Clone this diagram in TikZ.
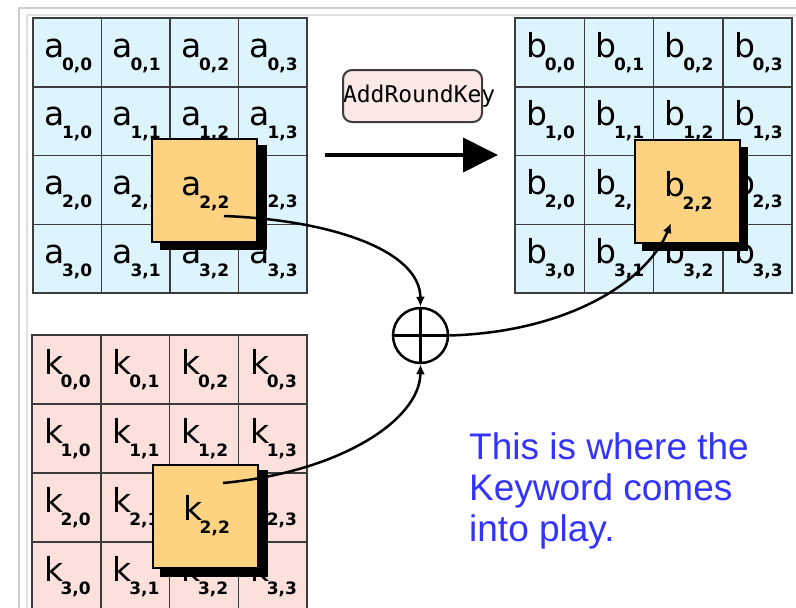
\documentclass[tikz,border=0pt]{standalone}
\usepackage{fontspec}
\setmainfont{DejaVu Sans}
\newfontfamily\celfont{DejaVu Sans}
\newfontfamily\arkfont{DejaVu Sans Mono}
\newfontfamily\notefont{Liberation Sans}
\usetikzlibrary{arrows.meta}
\definecolor{cellblue}{RGB}{222,244,252}
\definecolor{cellpink}{RGB}{252,224,220}
\definecolor{boxorange}{RGB}{253,210,128}
\definecolor{gridline}{RGB}{60,60,60}
\definecolor{arkfill}{RGB}{252,232,228}
\definecolor{noteblue}{RGB}{51,51,255}
\definecolor{framegray}{RGB}{205,205,205}
\newcommand\cellabel[2]{\kern2pt\celfont\fontsize{33}{33}\selectfont\vphantom{b}#1\kern-2.5pt\raisebox{-13pt}{\fontsize{17}{17}\selectfont\bfseries #2}}
\tikzset{
  cellbox/.style={draw=gridline, line width=1.5pt, inner sep=0pt, anchor=center},
  cellA/.style={cellbox, fill=cellblue, minimum width=68.5pt, minimum height=68.75pt},
  cellB/.style={cellbox, fill=cellblue, minimum width=69.25pt, minimum height=68.75pt},
  cellK/.style={cellbox, fill=cellpink, minimum width=68.75pt, minimum height=69pt},
  hlbox/.style={draw=black, line width=2pt, fill=boxorange, inner sep=0pt, minimum width=105pt, minimum height=103pt},
  shadowbox/.style={fill=black, inner sep=0pt},
  arkbox/.style={draw=gridline, line width=2pt, fill=arkfill, rounded corners=9pt, inner sep=0pt, minimum width=139pt, minimum height=52pt},
  conn/.style={line width=2.5pt, -{Latex[length=10pt,width=9pt]}},
  mainarrow/.style={line width=4pt, -{Triangle[length=35pt,width=34pt]}},
}
\begin{document}
\begin{tikzpicture}[x=1pt,y=-1pt]
\useasboundingbox (0,0) rectangle (796,608);
\clip (0,0) rectangle (796,608);
% frame
\draw[framegray, line width=2pt] (19,608) -- (19,8) -- (796,8);
\draw[framegray!60, line width=1.5pt] (27,608) -- (27,15) -- (796,15);
% grid A
\foreach \r in {0,...,3}
  \foreach \c in {0,...,3}
    \node[cellA] (a-\r-\c) at ({33+68.5*(\c+0.5)},{18+68.75*(\r+0.5)}) {\cellabel{a}{\r,\c}};
% grid B
\foreach \r in {0,...,3}
  \foreach \c in {0,...,3}
    \node[cellB] (b-\r-\c) at ({515+69.25*(\c+0.5)},{18+68.75*(\r+0.5)}) {\cellabel{b}{\r,\c}};
% grid K
\foreach \r in {0,...,3}
  \foreach \c in {0,...,3}
    \node[cellK] (k-\r-\c) at ({32+68.75*(\c+0.5)},{335+69*(\r+0.5)}) {\cellabel{k}{\r,\c}};
% highlighted boxes
\node[shadowbox, minimum width=107pt, minimum height=105pt] (a22s) at (213,197.5) {};
\node[hlbox] (a22) at (204.5,190.5) {\cellabel{a}{2,2}};
\node[shadowbox, minimum width=106pt, minimum height=104pt] (b22s) at (695,199) {};
\node[hlbox] (b22) at (687.5,191.5) {\cellabel{b}{2,2}};
\node[shadowbox, minimum width=108pt, minimum height=107pt] (k22s) at (214,523.5) {};
\node[hlbox] (k22) at (205.5,516) {\raisebox{7pt}{\cellabel{k}{2,2}}};
% AddRoundKey
\node[arkbox] (ark) at (412.5,96) {\makebox[139pt][l]{\arkfont\fontsize{23}{23}\selectfont AddRoundKey}};
\coordinate (m1) at (325,155);
\coordinate (m2) at (498,155);
\draw[mainarrow] (m1) -- (m2);
% XOR
\node[draw, circle, line width=2.5pt, minimum size=55pt, inner sep=0pt] (xor) at (420.5,335.5) {};
\draw[line width=2.5pt] (xor.north) -- (xor.south);
\draw[line width=2.5pt] (xor.west) -- (xor.east);
% connectors
\coordinate (s1) at (224,216);
\coordinate (s2) at (223,483);
\coordinate (t3) at (671,223);
\draw[conn] (s1) .. controls (330,220) and (420,250) .. (xor.north);
\draw[conn] (s2) .. controls (340,472) and (420,420) .. (xor.south);
\draw[conn] (xor.east) .. controls (570,332) and (648,280) .. (t3);
% note
\node[anchor=base west, inner sep=0pt, text=noteblue, align=left, font=\notefont\fontsize{37}{41}\selectfont] (note) at (469,541) {This is where the\\Keyword comes\\into play.};
\end{tikzpicture}
\end{document}
